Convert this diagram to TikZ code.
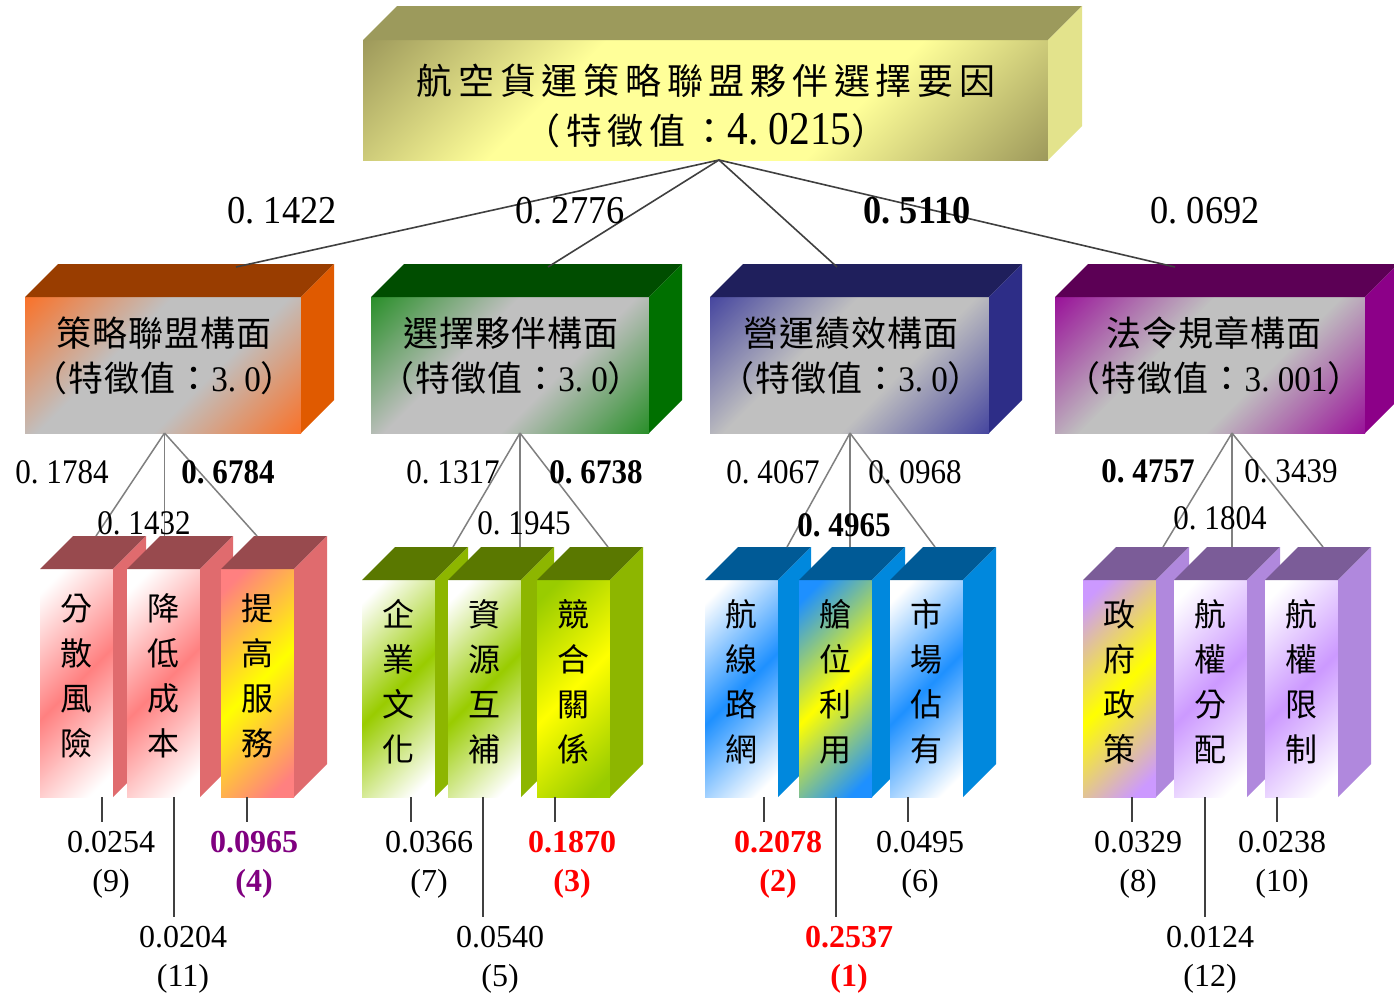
\documentclass[tikz,border=0pt]{standalone}
\usepackage{fontspec}
\setmainfont{Liberation Serif}
\newfontfamily\cjk{Noto Sans CJK TC}
\newfontfamily\cjkm[LetterSpace=3]{Noto Sans CJK TC}
\newfontfamily\cjkw[LetterSpace=16]{Noto Sans CJK TC}
\newfontfamily\numf{Liberation Serif}

\definecolor{rootTop}{HTML}{9C9A5C}
\definecolor{rootRight}{HTML}{E3E38C}
\definecolor{rootDark}{HTML}{807A48}
\definecolor{rootLight}{HTML}{FFFF99}
\definecolor{faceGray}{HTML}{C0C0C0}
\definecolor{orTop}{HTML}{993D00}
\definecolor{orRight}{HTML}{E05A00}
\definecolor{orFace}{HTML}{FF6A1A}
\definecolor{grTop}{HTML}{004D00}
\definecolor{grRight}{HTML}{007000}
\definecolor{grFace}{HTML}{1A8A1A}
\definecolor{blTop}{HTML}{1F1F5C}
\definecolor{blRight}{HTML}{2D2D87}
\definecolor{blFace}{HTML}{3A3A9C}
\definecolor{puTop}{HTML}{5C0055}
\definecolor{puRight}{HTML}{8C0088}
\definecolor{puFace}{HTML}{950095}
\definecolor{pkTop}{HTML}{984A4E}
\definecolor{pkRight}{HTML}{E06B6E}
\definecolor{pkBand}{HTML}{FF8080}
\definecolor{lgTop}{HTML}{5A7800}
\definecolor{lgRight}{HTML}{8DB600}
\definecolor{lgBand}{HTML}{99CC00}
\definecolor{lbTop}{HTML}{005A96}
\definecolor{lbRight}{HTML}{0088DD}
\definecolor{lbBand}{HTML}{1E90FF}
\definecolor{lpTop}{HTML}{7B5C98}
\definecolor{lpRight}{HTML}{B088DD}
\definecolor{lpBand}{HTML}{CC99FF}
\definecolor{yel}{HTML}{FFFF00}
\definecolor{l1col}{HTML}{404040}
\definecolor{l2col}{HTML}{808080}
\definecolor{l3col}{HTML}{404040}
\definecolor{valPurple}{HTML}{800080}
\definecolor{valRed}{HTML}{FF0000}

\pgfdeclarehorizontalshading{rootsh}{100bp}{color(0bp)=(rootDark); color(8bp)=(rootDark); color(36bp)=(rootLight); color(64bp)=(rootLight); color(92bp)=(rootDark); color(100bp)=(rootDark)}
\pgfdeclarehorizontalshading{orsh}{100bp}{color(0bp)=(orFace); color(12bp)=(orFace); color(40bp)=(faceGray); color(60bp)=(faceGray); color(88bp)=(orFace); color(100bp)=(orFace)}
\pgfdeclarehorizontalshading{grsh}{100bp}{color(0bp)=(grFace); color(12bp)=(grFace); color(40bp)=(faceGray); color(60bp)=(faceGray); color(88bp)=(grFace); color(100bp)=(grFace)}
\pgfdeclarehorizontalshading{blsh}{100bp}{color(0bp)=(blFace); color(12bp)=(blFace); color(40bp)=(faceGray); color(60bp)=(faceGray); color(88bp)=(blFace); color(100bp)=(blFace)}
\pgfdeclarehorizontalshading{pish}{100bp}{color(0bp)=(puFace); color(12bp)=(puFace); color(40bp)=(faceGray); color(60bp)=(faceGray); color(88bp)=(puFace); color(100bp)=(puFace)}
\pgfdeclarehorizontalshading{pkW}{100bp}{color(0bp)=(white); color(20bp)=(white); color(50bp)=(pkBand); color(80bp)=(white); color(100bp)=(white)}
\pgfdeclarehorizontalshading{pkY}{100bp}{color(0bp)=(pkBand); color(20bp)=(pkBand); color(50bp)=(yel); color(80bp)=(pkBand); color(100bp)=(pkBand)}
\pgfdeclarehorizontalshading{lgW}{100bp}{color(0bp)=(white); color(20bp)=(white); color(50bp)=(lgBand); color(80bp)=(white); color(100bp)=(white)}
\pgfdeclarehorizontalshading{lgY}{100bp}{color(0bp)=(lgBand); color(20bp)=(lgBand); color(50bp)=(yel); color(80bp)=(lgBand); color(100bp)=(lgBand)}
\pgfdeclarehorizontalshading{lbW}{100bp}{color(0bp)=(white); color(20bp)=(white); color(50bp)=(lbBand); color(80bp)=(white); color(100bp)=(white)}
\pgfdeclarehorizontalshading{lbY}{100bp}{color(0bp)=(lbBand); color(20bp)=(lbBand); color(50bp)=(yel); color(80bp)=(lbBand); color(100bp)=(lbBand)}
\pgfdeclarehorizontalshading{lpW}{100bp}{color(0bp)=(white); color(20bp)=(white); color(50bp)=(lpBand); color(80bp)=(white); color(100bp)=(white)}
\pgfdeclarehorizontalshading{lpY}{100bp}{color(0bp)=(lpBand); color(20bp)=(lpBand); color(50bp)=(yel); color(80bp)=(lpBand); color(100bp)=(lpBand)}

% weight number with monospaced-looking period
\newcommand\wn[3]{\scalebox{#1}[1]{#2.\kern0.25em#3}}
\newcommand\dn[2]{{\numf\fontsize{36}{40}\selectfont\wn{0.92}{#1}{#2}}}

% cuboid: name, x, y (front top-left), width, height, depth, shading, top colour, right colour
\newcommand\mycube[9]{%
  \node[face, shading=#7, minimum width=#4, minimum height=#5] (#1) at (#2,#3) {};
  \fill[#8] (#1.north west) -- ++(#6,-#6) -- ++(#4,0) -- (#1.north east) -- cycle;
  \fill[#9] (#1.north east) -- ++(#6,-#6) -- ++(0,#5) -- (#1.south east) -- cycle;
}
% leaf: name, x, y, shading, top colour, right colour, text
\newcommand\leafbox[7]{%
  \node[face, leafshade, shading=#4, minimum width=73, minimum height={797-#3}] (#1) at (#2,#3) {};
  \fill[#5] (#1.north west) -- ++(33,-33) -- ++(73,0) -- (#1.north east) -- cycle;
  \fill[#6] (#1.north east) -- ++(33,-33) -- ++(0,{797-#3}) -- (#1.south east) -- cycle;
  \node[leaftext] (#1t) at ([yshift=7pt]#1.center) {#7};
}

\begin{document}
\begin{tikzpicture}[x=1pt,y=-1pt,
  face/.style={shade, draw=none, inner sep=0pt, outer sep=0pt, anchor=north west, shading angle=-45},
  leafshade/.style={shading angle=-45},
  leaftext/.style={font=\cjk\fontsize{32}{45}\selectfont, align=center, inner sep=0pt},
  dimtext/.style={font=\cjkm\fontsize{35}{45}\selectfont, align=center, inner sep=0pt},
  roottext/.style={font=\cjkw\fontsize{36}{50}\selectfont, align=center, inner sep=0pt},
  wone/.style={font=\numf\fontsize{39.5}{45}\selectfont, inner sep=0pt},
  wtwo/.style={font=\numf\fontsize{34.5}{40}\selectfont, inner sep=0pt},
  bval/.style={font=\numf\fontsize{32}{39}\selectfont, align=center, inner sep=0pt},
  bvalb/.style={bval, font=\numf\bfseries\fontsize{32}{39}\selectfont},
  lone/.style={draw=l1col, line width=1.6pt},
  ltwo/.style={draw=l2col, line width=1.5pt},
  lthree/.style={draw=l3col, line width=1.5pt, shorten >=9pt},
]
\useasboundingbox (0,0) rectangle (1394,993);
\fill[white] (0,0) rectangle (1394,993);

% ---- root ----
\mycube{root}{363}{40}{685}{120}{34}{rootsh}{rootTop}{rootRight}
\node[roottext] (roott) at (706,106) {航空貨運策略聯盟夥伴選擇要因\\（特徵值：{\numf\fontsize{47}{50}\selectfont\wn{0.88}{4}{0215}}）};

% ---- dimensions ----
\mycube{d1}{25}{297}{276}{136}{33}{orsh}{orTop}{orRight}
\mycube{d2}{371}{297}{278}{136}{33}{grsh}{grTop}{grRight}
\mycube{d3}{710}{297}{279}{136}{33}{blsh}{blTop}{blRight}
\mycube{d4}{1055}{297}{310}{136}{33}{pish}{puTop}{puRight}
\node[dimtext] (d1t) at (164,356) {策略聯盟構面\\（特徵值：\dn{3}{0}）};
\node[dimtext] (d2t) at (511,356) {選擇夥伴構面\\（特徵值：\dn{3}{0}）};
\node[dimtext] (d3t) at (851,356) {營運績效構面\\（特徵值：\dn{3}{0}）};
\node[dimtext] (d4t) at (1214,356) {法令規章構面\\（特徵值：\dn{3}{001}）};

% ---- leaves ----
\leafbox{p1}{40}{569}{pkW}{pkTop}{pkRight}{分\\散\\風\\險}
\leafbox{p2}{127}{569}{pkW}{pkTop}{pkRight}{降\\低\\成\\本}
\leafbox{p3}{221}{569}{pkY}{pkTop}{pkRight}{提\\高\\服\\務}
\leafbox{g1}{362}{580}{lgW}{lgTop}{lgRight}{企\\業\\文\\化}
\leafbox{g2}{448}{580}{lgW}{lgTop}{lgRight}{資\\源\\互\\補}
\leafbox{g3}{537}{580}{lgY}{lgTop}{lgRight}{競\\合\\關\\係}
\leafbox{b1}{705}{580}{lbW}{lbTop}{lbRight}{航\\線\\路\\網}
\leafbox{b2}{799}{580}{lbY}{lbTop}{lbRight}{艙\\位\\利\\用}
\leafbox{b3}{890}{580}{lbW}{lbTop}{lbRight}{市\\場\\佔\\有}
\leafbox{u1}{1083}{580}{lpY}{lpTop}{lpRight}{政\\府\\政\\策}
\leafbox{u2}{1174}{580}{lpW}{lpTop}{lpRight}{航\\權\\分\\配}
\leafbox{u3}{1265}{580}{lpW}{lpTop}{lpRight}{航\\權\\限\\制}

% ---- level-1 connectors ----
\coordinate (apex) at ([xshift=13.5pt]root.south);
\coordinate (d1e) at (236,267);
\coordinate (d2e) at (548,267);
\coordinate (d3e) at (837,267);
\coordinate (d4e) at (1175,267);
\foreach \k in {1,...,4} \draw[lone] (apex) -- (d\k e);

% ---- level-2 connectors ----
\coordinate (d1s) at ([xshift=1.5pt]d1.south);
\coordinate (d2s) at ([xshift=10pt]d2.south);
\coordinate (d3s) at ([xshift=0.5pt]d3.south);
\coordinate (d4s) at ([xshift=22pt]d4.south);
\coordinate (p1e) at (96,536);
\coordinate (p2e) at (d1s |- p1e);
\coordinate (p3e) at (257,536);
\coordinate (g1e) at (453,547);
\coordinate (g2e) at (d2s |- g1e);
\coordinate (g3e) at (608,547);
\coordinate (b1e) at (787,547);
\coordinate (b2e) at (d3s |- b1e);
\coordinate (b3e) at (935,547);
\coordinate (u1e) at (1163,547);
\coordinate (u2e) at (d4s |- u1e);
\coordinate (u3e) at (1323,547);
\foreach \s/\a/\b/\c in {d1s/p1e/p2e/p3e, d2s/g1e/g2e/g3e, d3s/b1e/b2e/b3e, d4s/u1e/u2e/u3e}
  {\draw[ltwo] (\s) -- (\a); \draw[ltwo] (\s) -- (\b); \draw[ltwo] (\s) -- (\c);}

% ---- level-1 weights ----
\node[wone] (a1) at (282,211) {\wn{0.92}{0}{1422}};
\node[wone] (a2) at (570,211) {\wn{0.92}{0}{2776}};
\node[wone] (a3) at (917,211) {\bfseries\wn{0.92}{0}{5110}};
\node[wone] (a4) at (1205,211) {\wn{0.92}{0}{0692}};

% ---- level-2 weights ----
\node[wtwo] (w11) at (62,472) {\wn{0.9}{0}{1784}};
\node[wtwo] (w12) at (144,523) {\wn{0.9}{0}{1432}};
\node[wtwo] (w13) at (228,472) {\bfseries\wn{0.9}{0}{6784}};
\node[wtwo] (w21) at (453,472) {\wn{0.9}{0}{1317}};
\node[wtwo] (w22) at (524,523) {\wn{0.9}{0}{1945}};
\node[wtwo] (w23) at (596,472) {\bfseries\wn{0.9}{0}{6738}};
\node[wtwo] (w31) at (773,472) {\wn{0.9}{0}{4067}};
\node[wtwo] (w32) at (844,525) {\bfseries\wn{0.9}{0}{4965}};
\node[wtwo] (w33) at (915,472) {\wn{0.9}{0}{0968}};
\node[wtwo] (w41) at (1148,471) {\bfseries\wn{0.9}{0}{4757}};
\node[wtwo] (w42) at (1220,518) {\wn{0.9}{0}{1804}};
\node[wtwo] (w43) at (1291,471) {\wn{0.9}{0}{3439}};

% ---- global weights ----
\node[bval] (v11) at (111,864.5) {0.0254\\(9)};
\node[bval] (v12) at (183,959.5) {0.0204\\(11)};
\node[bvalb, text=valPurple] (v13) at (254,864.5) {0.0965\\(4)};
\node[bval] (v21) at (429,864.5) {0.0366\\(7)};
\node[bval] (v22) at (500,959.5) {0.0540\\(5)};
\node[bvalb, text=valRed] (v23) at (572,864.5) {0.1870\\(3)};
\node[bvalb, text=valRed] (v31) at (778,864.5) {0.2078\\(2)};
\node[bvalb, text=valRed] (v32) at (849,959.5) {0.2537\\(1)};
\node[bval] (v33) at (920,864.5) {0.0495\\(6)};
\node[bval] (v41) at (1138,864.5) {0.0329\\(8)};
\node[bval] (v42) at (1210,959.5) {0.0124\\(12)};
\node[bval] (v43) at (1282,864.5) {0.0238\\(10)};

% ---- bottom connectors ----
\foreach \n/\dx/\v in {p1/62/v11, p2/47/v12, p3/26/v13, g1/49/v21, g2/35/v22, g3/18/v23,
                       b1/59/v31, b2/37/v32, b3/18/v33, u1/49/v41, u2/31/v42, u3/12/v43}
  {\coordinate (\n b) at ([xshift=\dx pt]\n.south west);
   \draw[lthree] (\n b) -- (\n b |- \v.north);}
\end{tikzpicture}
\end{document}
